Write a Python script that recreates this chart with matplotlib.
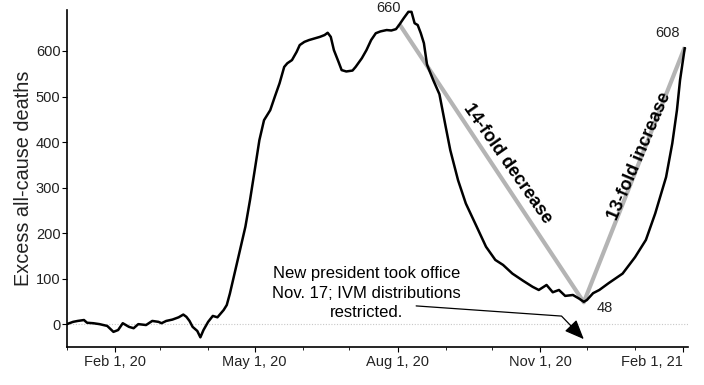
import numpy as np
import matplotlib
matplotlib.use('Agg')
import matplotlib.pyplot as plt
import matplotlib.dates as mdates

plt.rcParams['font.family'] = ['Liberation Sans', 'DejaVu Sans']

# excess all-cause deaths
dates = [
    '2020-01-01', '2020-01-05', '2020-01-08', '2020-01-12', '2020-01-14', '2020-01-18',
    '2020-01-22', '2020-01-27', '2020-01-31', '2020-02-03', '2020-02-06', '2020-02-10',
    '2020-02-13', '2020-02-16', '2020-02-21', '2020-02-25', '2020-02-29', '2020-03-02',
    '2020-03-05', '2020-03-09', '2020-03-13', '2020-03-16', '2020-03-18', '2020-03-20',
    '2020-03-22', '2020-03-25', '2020-03-27', '2020-03-29', '2020-04-01', '2020-04-04',
    '2020-04-07', '2020-04-11', '2020-04-13', '2020-04-15', '2020-04-18', '2020-04-21',
    '2020-04-25', '2020-04-28', '2020-05-01', '2020-05-04', '2020-05-07', '2020-05-11',
    '2020-05-14', '2020-05-17', '2020-05-20', '2020-05-22', '2020-05-25', '2020-05-28',
    '2020-05-30', '2020-06-02', '2020-06-05', '2020-06-09', '2020-06-12', '2020-06-15',
    '2020-06-17', '2020-06-19', '2020-06-21', '2020-06-24', '2020-06-26', '2020-06-29',
    '2020-07-03', '2020-07-05', '2020-07-09', '2020-07-12', '2020-07-15', '2020-07-18',
    '2020-07-21', '2020-07-25', '2020-07-28', '2020-07-31', '2020-08-02', '2020-08-05',
    '2020-08-08', '2020-08-10', '2020-08-12', '2020-08-14', '2020-08-16', '2020-08-18',
    '2020-08-20', '2020-08-24', '2020-08-28', '2020-09-01', '2020-09-04', '2020-09-09',
    '2020-09-14', '2020-09-21', '2020-09-27', '2020-10-03', '2020-10-08', '2020-10-14',
    '2020-10-21', '2020-10-27', '2020-10-31', '2020-11-05', '2020-11-09', '2020-11-13',
    '2020-11-17', '2020-11-22', '2020-11-26', '2020-11-29', '2020-12-01', '2020-12-05',
    '2020-12-09', '2020-12-15', '2020-12-24', '2021-01-01', '2021-01-08', '2021-01-14',
    '2021-01-21', '2021-01-25', '2021-01-28', '2021-01-30', '2021-02-02',
]
deaths = [
    0, 5, 7, 9, 3, 2,
    0, -4, -17, -13, 2, -6,
    -9, 0, -2, 7, 5, 2,
    7, 10, 15, 21, 16, 7,
    -6, -15, -29, -13, 5, 18,
    15, 31, 42, 67, 111, 155,
    214, 273, 338, 404, 448, 470,
    500, 529, 565, 573, 580, 598,
    613, 620, 624, 628, 631, 635,
    640, 631, 602, 576, 558, 555,
    557, 565, 584, 602, 624, 639,
    643, 646, 645, 648, 657, 672,
    686, 686, 661, 657, 639, 617,
    570, 536, 505, 434, 382, 316,
    265, 214, 170, 141, 130, 111,
    95, 82, 75, 86, 70, 75,
    62, 64, 56, 49, 53, 68,
    75, 90, 111, 147, 185, 243,
    323, 397, 470, 536, 606,
]

# trend lines: peak -> trough -> latest
trend_dates = ['2020-08-02', '2020-11-29', '2021-02-02']
trend_values = [660, 48, 608]
trend_labels = ['660', '48', '608']

tick_dates = ['2020-02-01', '2020-05-01', '2020-08-01', '2020-11-01', '2021-02-01']
tick_labels = ['Feb 1, 20', 'May 1, 20', 'Aug 1, 20', 'Nov 1, 20', 'Feb 1, 21']

x = np.array(dates, dtype='datetime64[D]')
tx = np.array(trend_dates, dtype='datetime64[D]')
day = np.timedelta64(1, 'D')

fig = plt.figure(figsize=(7.04, 3.85), dpi=100)
ax = fig.add_axes([0.095, 0.099, 0.882, 0.875])

ax.axhline(0, color='#c8c8c8', lw=0.8, ls=(0, (1, 1.5)), zorder=1)
ax.plot(tx, trend_values, color='#b4b4b4', lw=3, solid_capstyle='butt', zorder=2)
ax.plot(x, deaths, color='black', lw=1.8, zorder=3)

label_style = dict(va='center', fontsize=10.5, color='#222222')
ax.text(tx[0] + day, trend_values[0] + 35, trend_labels[0], ha='right', **label_style)
ax.text(tx[1] + 8 * day, trend_values[1] - 13, trend_labels[1], ha='left', **label_style)
ax.text(tx[2] - 3 * day, trend_values[2] + 32, trend_labels[2], ha='right', **label_style)

ax.text(np.datetime64('2020-10-11'), 353, '14-fold decrease', rotation=-55,
        ha='center', va='center', fontsize=13, fontweight='bold', color='black')
ax.text(np.datetime64('2021-01-04'), 370, '13-fold increase', rotation=67,
        ha='center', va='center', fontsize=13, fontweight='bold', color='black')

ax.text(np.datetime64('2020-07-12'), 68,
        'New president took office\nNov. 17; IVM distributions\nrestricted.',
        ha='center', va='center', fontsize=12, linespacing=1.4, color='black')
ax.annotate('', xy=(np.datetime64('2020-11-29'), -33),
            xytext=(np.datetime64('2020-08-13'), 40),
            arrowprops=dict(arrowstyle='-|>,head_length=0.6,head_width=0.25',
                            connectionstyle='angle,angleA=-4,angleB=-46,rad=0',
                            color='black', lw=0.9, mutation_scale=20,
                            shrinkA=0, shrinkB=0))

ax.set_xlim(np.datetime64('2020-01-01'), np.datetime64('2021-02-04'))
ax.set_ylim(-50, 690)
ax.set_yticks(range(0, 700, 100))
ax.set_xticks(np.array(tick_dates, dtype='datetime64[D]'))
ax.set_xticklabels(tick_labels)
ax.xaxis.set_minor_locator(mdates.MonthLocator())
# last label sits flush against the right edge
ax.get_xticklabels()[-1].set_horizontalalignment('right')

for side in ['top', 'right']:
    ax.spines[side].set_visible(False)
for side in ['left', 'bottom']:
    ax.spines[side].set_linewidth(1.2)
ax.tick_params(axis='both', which='major', labelsize=10.5, labelcolor='#222222',
               length=3.6, width=0.8)
ax.tick_params(axis='y', pad=1)
ax.tick_params(axis='x', pad=2)
ax.tick_params(axis='x', which='minor', length=2.2, width=0.6)

ax.set_ylabel('Excess all-cause deaths', fontsize=14.3, color='#222222', labelpad=2)

fig.savefig('out.png', dpi=100)
